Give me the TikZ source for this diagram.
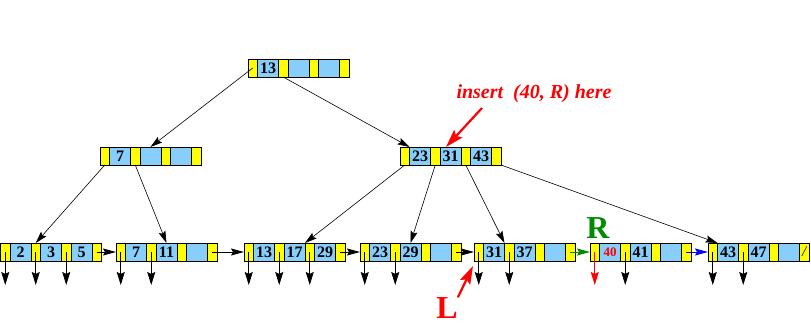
\documentclass[tikz,border=0pt]{standalone}
\usepackage{fontspec}
\setmainfont{Liberation Serif}
\usetikzlibrary{positioning,arrows.meta}

\definecolor{ptryellow}{RGB}{255,255,0}
\definecolor{keyblue}{RGB}{135,206,250}
\definecolor{rgreen}{RGB}{0,140,0}

% one B+-tree node: pointer/key cells p0 k1 p1 k2 p2 k3 p3
\newcommand{\bpnode}[5]{%
  \node[ptr, anchor=north west] (#1-p0) at (#2) {};
  \node[key, right=0pt of #1-p0] (#1-k1) {#3};
  \node[ptr, right=0pt of #1-k1] (#1-p1) {};
  \node[key, right=0pt of #1-p1] (#1-k2) {#4};
  \node[ptr, right=0pt of #1-k2] (#1-p2) {};
  \node[key, right=0pt of #1-p2] (#1-k3) {#5};
  \node[ptr, right=0pt of #1-k3] (#1-p3) {};
}

\begin{document}
\begin{tikzpicture}[
  x=1pt, y=-1pt,
  ptr/.style={draw, fill=ptryellow, line width=0.8pt, minimum width=9.5pt,
    minimum height=18pt, inner sep=0pt, outer sep=0pt},
  key/.style={ptr, fill=keyblue, minimum width=21pt,
    font=\fontsize{16}{17}\selectfont\bfseries},
  tree/.style={-{Stealth[length=12pt,width=7pt,inset=2pt]}, line width=0.6pt},
  down/.style={-{Stealth[length=13pt,width=8pt,inset=2pt]}, line width=0.8pt},
  nxt/.style={-{Stealth[length=13pt,width=7pt,inset=2pt]}, line width=0.8pt},
  redarr/.style={-{Stealth[length=18pt,width=11pt,inset=3pt]}, red, line width=2.2pt},
  big/.style={font=\fontsize{32}{34}\selectfont\bfseries, inner sep=0pt},
]
  \useasboundingbox (0,0) rectangle (811,324);

  % root and internal level
  \bpnode{root}{248,59}{13}{}{}
  \bpnode{il}{100,147}{7}{}{}
  \bpnode{ir}{400,147}{23}{31}{43}

  % leaf level
  \bpnode{l1}{0.5,243}{2}{3}{5}
  \bpnode{l2}{116,243}{7}{11}{}
  \bpnode{l3}{244,243}{13}{17}{29}
  \bpnode{l4}{360,243}{23}{29}{}
  \bpnode{l5}{474,243}{31}{37}{}
  \bpnode{l6}{590,243}{{\fontsize{13}{14}\selectfont\color{red}40}}{41}{}
  \bpnode{l7}{708,243}{43}{47}{}
  \node[font=\fontsize{15}{16}\selectfont\itshape] (nil) at (l7-p3) {/};

  % tree pointers
  \draw[tree] (root-p0.center) -- (il-k2.north);
  \draw[tree] (root-p1.south) -- (ir-k1.north west);
  \draw[tree] (il-p0.south) -- (l1-p1.north);
  \draw[tree] (il-p1.south) -- (l2-k2.north);
  \draw[tree] (ir-p0.south) -- (l3-k2.north east);
  \draw[tree] (ir-p1.south) -- (l4-k2.north);
  \draw[tree] (ir-p2.south) -- (l5-k1.north east);
  \draw[tree] (ir-p3.south east) -- (l7-p0.north east);

  % record pointers
  \coordinate (tips) at (0,285);
  \foreach \c in {l1-p0,l1-p1,l1-p2,l2-p0,l2-p1,l3-p0,l3-p1,l3-p2,
                  l4-p0,l4-p1,l5-p0,l5-p1,l6-p1,l7-p0,l7-p1}
    \draw[down] (\c.center) -- (\c.center |- tips);
  \draw[down, red] (l6-p0.center) -- (l6-p0.center |- tips);

  % sibling pointers
  \foreach \a/\b in {l1/l2,l2/l3,l3/l4,l4/l5}
    \draw[nxt] (\a-p3.center) -- (\b-p0.west);
  \draw[nxt, rgreen] (l5-p3.center) -- (l6-p0.west);
  \draw[nxt, blue] (l6-p3.center) -- (l7-p0.west);

  % annotations
  \node[text=red, font=\fontsize{20}{22}\selectfont\bfseries\itshape] (ins)
    at (534,94) {insert\ \ (40, R) here};
  \coordinate (insfrom) at (482,108);
  \draw[redarr] (insfrom) -- ([xshift=6pt]ir-k2.north west);

  \node[big, text=rgreen] (rlab) at (598,228) {R};
  \node[big, text=red] (llab) at (447,308) {L};
  \coordinate (ltip) at (473,266);
  \draw[redarr] (llab.north east) -- (ltip);
\end{tikzpicture}
\end{document}
